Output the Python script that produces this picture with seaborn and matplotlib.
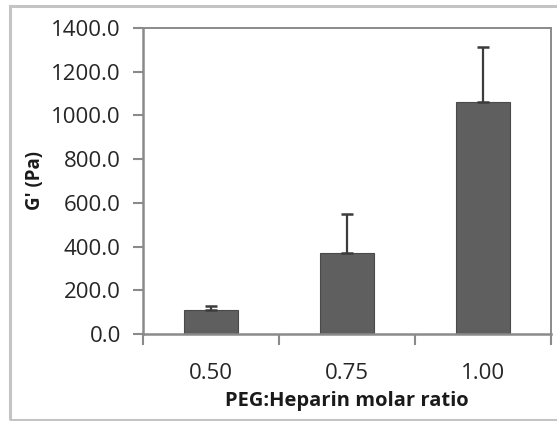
import matplotlib
matplotlib.use("Agg")
import matplotlib.pyplot as plt
from matplotlib.patches import Rectangle
from matplotlib.ticker import FixedLocator, FuncFormatter
import seaborn as sns
import pandas as pd

# Storage modulus of PEG-heparin hydrogels
ratios = ["0.50", "0.75", "1.00"]
g_prime = [112.0, 370.0, 1063.0]
g_prime_sd = [18.0, 178.0, 248.0]
y_ticks = [0, 200, 400, 600, 800, 1000, 1200, 1400]

sns.set_theme(style="white")
plt.rcParams["font.family"] = ["Open Sans", "DejaVu Sans"]

df = pd.DataFrame({"ratio": ratios, "G": g_prime})

fig = plt.figure(figsize=(5.57, 4.21), dpi=100)
ax = fig.add_axes([143 / 557, 1 - 334 / 421, (551 - 143) / 557, (334 - 28) / 421])

bar_color = "#5f5f5f"
sns.barplot(data=df, x="ratio", y="G", color=bar_color, width=0.4,
            saturation=1, edgecolor="#4a4a4a", linewidth=0.8, ax=ax, zorder=2)

# upper error bars only
ax.errorbar(range(len(ratios)), g_prime, yerr=[[0] * 3, g_prime_sd],
            fmt="none", ecolor="#3c3c3c", elinewidth=1.6, capsize=4.5,
            capthick=1.8, zorder=3)

ax.set_xlim(-0.5, len(ratios) - 0.5)
ax.set_ylim(0, 1400)
ax.set_yticks(y_ticks)
ax.yaxis.set_major_formatter(FuncFormatter(lambda v, p: f"{v:.1f}"))

tick_font = 16
# category boundary ticks on the x axis, labels at bar centres
ax.xaxis.set_minor_locator(FixedLocator([-0.5, 0.5, 1.5, 2.5]))
ax.tick_params(axis="x", which="major", length=0, pad=21,
               labelsize=tick_font, labelcolor="#262626")
ax.tick_params(axis="x", which="minor", length=8, width=1.5,
               color="#8a8a8a", direction="out", bottom=True)
ax.tick_params(axis="y", length=7, width=1.5, color="#8a8a8a",
               direction="out", left=True, pad=9,
               labelsize=tick_font, labelcolor="#262626")

for side, sp in ax.spines.items():
    sp.set_visible(True)
    sp.set_color("#8a8a8a")
    sp.set_linewidth(1.8 if side in ("left", "bottom") else 1.4)
    sp.set_zorder(4)

ax.set_xlabel("PEG:Heparin molar ratio", fontsize=14.5, fontweight="bold",
              color="#1a1a1a")
ax.xaxis.set_label_coords(0.5, (334 - 391) / 306)
ax.set_ylabel("G' (Pa)", fontsize=13.5, fontweight="bold", color="#1a1a1a")
ax.yaxis.set_label_coords((45 - 143) / 408, 0.5)

# chart area frame
fig.patches.append(Rectangle((10 / 557, 1 / 421), 1.2, 414 / 421,
                             transform=fig.transFigure, fill=False,
                             edgecolor="#c4c4c4", linewidth=2.2))

fig.savefig("out.png", dpi=100)
